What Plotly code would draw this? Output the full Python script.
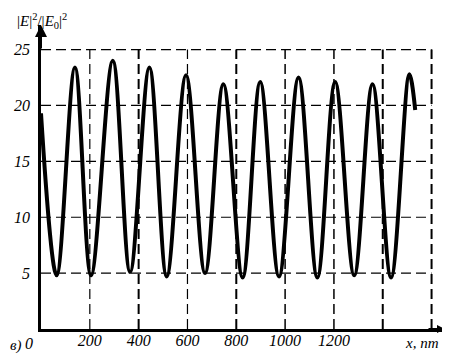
import plotly.graph_objects as go

# Curve key points (x in nm, |E|^2/|E0|^2)
x_nm = [0, 64, 139, 205, 294, 365, 444, 515, 594, 672, 747, 826, 898, 975,
        1055, 1132, 1205, 1283, 1358, 1434, 1509, 1533]
intensity = [19.3, 4.8, 23.4, 4.8, 24.0, 5.1, 23.4, 4.7, 22.7, 5.0, 21.9, 4.6,
             22.1, 4.7, 22.5, 4.6, 22.1, 4.8, 21.9, 4.6, 22.8, 19.6]

x_grid = [200, 400, 600, 800, 1000, 1200, 1400, 1600]
y_grid = [5, 10, 15, 20, 25]
x_tick_vals = [200, 400, 600, 800, 1000, 1200]
x_tick_text = ["200", "400", "600", "800", "1000", "1200"]
y_tick_vals = [5, 10, 15, 20, 25]
y_tick_text = ["5", "10", "15", "20", "25"]

X_MAX = 1655
Y_MAX = 27.2

# The page body has an 8px margin, so the figure is drawn at (8, 8) in the window.
OFF = 8
WIN_W, WIN_H = 450, 358
W, H = WIN_W - OFF, WIN_H - OFF
PLOT_X0, PLOT_X1 = 41, 445      # window pixels of plot area
PLOT_Y0, PLOT_Y1 = 25, 329
L, R = PLOT_X0 - OFF, WIN_W - PLOT_X1
T, B = PLOT_Y0 - OFF, WIN_H - PLOT_Y1
PW, PH = PLOT_X1 - PLOT_X0, PLOT_Y1 - PLOT_Y0

def px(x):
    return (x - PLOT_X0) / PW

def py(y):
    return (PLOT_Y1 - y) / PH

serif = "Liberation Serif, Times New Roman, serif"

fig = go.Figure()
fig.add_trace(go.Scatter(
    x=x_nm, y=intensity, mode="lines",
    line=dict(color="black", width=4, shape="spline", smoothing=1.0),
    hoverinfo="skip", showlegend=False,
))

grid_w = {200: 1.2, 400: 2, 600: 1.2, 800: 2, 1000: 1.5, 1200: 1.5, 1400: 2, 1600: 2}
for v in y_grid:
    fig.add_shape(type="line", x0=0, x1=x_grid[-1], y0=v, y1=v, layer="below",
                  line=dict(color="black", width=1.2, dash="10px,5px"))
for v in x_grid:
    fig.add_shape(type="line", x0=v, x1=v, y0=0, y1=y_grid[-1], layer="below",
                  line=dict(color="black", width=grid_w.get(v, 1.2), dash="10px,5px"))

# axis arrows
fig.add_annotation(xref="paper", yref="paper", x=0, y=1, ax=0, ay=25,
                   text="", showarrow=True,
                   arrowhead=2, arrowsize=1.2, arrowwidth=2, arrowcolor="black")
fig.add_annotation(xref="paper", yref="paper", x=1, y=0, ax=-18, ay=0,
                   text="", showarrow=True,
                   arrowhead=2, arrowsize=0.8, arrowwidth=2, arrowcolor="black")

# texts
fig.add_annotation(xref="paper", yref="paper", x=px(15), y=py(9), xanchor="left",
                   yanchor="top", showarrow=False,
                   text="|<i>E</i>|<sup>2</sup>/|<i>E</i><sub>0</sub>|<sup>2</sup>",
                   font=dict(family=serif, size=15, color="black"))
fig.add_annotation(xref="paper", yref="paper", x=px(29), y=py(343),
                   xanchor="center", yanchor="middle", showarrow=False,
                   text="0", font=dict(family=serif, size=16, color="black", style="italic"))
fig.add_annotation(xref="paper", yref="paper", x=px(8), y=py(345),
                   xanchor="left", yanchor="middle", showarrow=False,
                   text="в)", font=dict(family=serif, size=15, color="black", style="italic"))
fig.add_annotation(xref="paper", yref="paper", x=px(422), y=py(343),
                   xanchor="center", yanchor="middle", showarrow=False,
                   text="x, nm", font=dict(family=serif, size=15, color="black", style="italic"))

fig.update_xaxes(range=[0, X_MAX], showgrid=False, zeroline=False,
                 showline=True, linecolor="black", linewidth=2.5,
                 tickvals=x_tick_vals, ticktext=x_tick_text, ticks="",
                 ticklabelstandoff=-5,
                 tickfont=dict(family=serif, size=16, color="black", style="italic"),
                 fixedrange=True, automargin=False)
fig.update_yaxes(range=[0, Y_MAX], showgrid=False, zeroline=False,
                 showline=True, linecolor="black", linewidth=2.5,
                 tickvals=y_tick_vals, ticktext=y_tick_text, ticks="",
                 ticklabelstandoff=5,
                 tickfont=dict(family=serif, size=16, color="black", style="italic"),
                 fixedrange=True, automargin=False)

fig.update_layout(width=W, height=H, margin=dict(l=L, r=R, t=T, b=B),
                  paper_bgcolor="white", plot_bgcolor="white", showlegend=False)

fig.write_html("out.html")
